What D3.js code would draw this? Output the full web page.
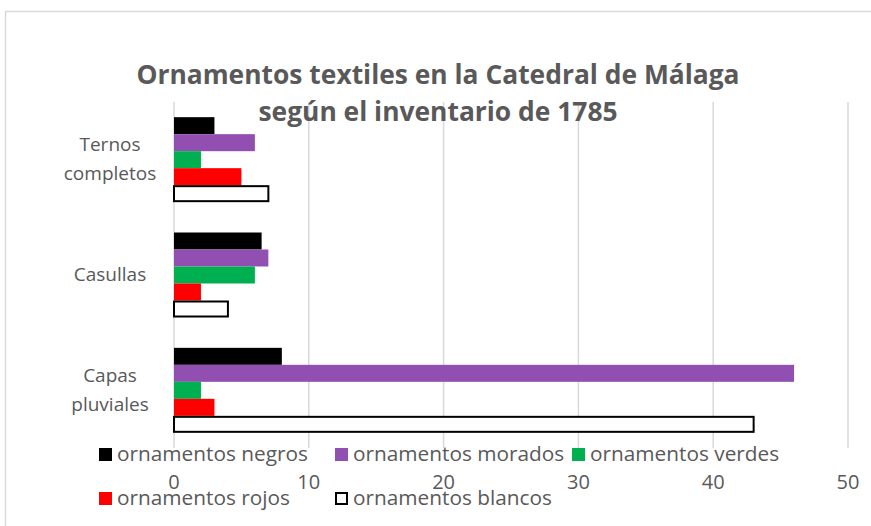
<!DOCTYPE html>
<html>
<head>
<meta charset="utf-8">
<script src="https://cdn.jsdelivr.net/npm/d3@7"></script>
<style>
  body { margin: 0; background: #fff; }
  text { font-family: "Open Sans", sans-serif; fill: #595959; }
</style>
</head>
<body>
<svg id="chart"></svg>
<script>
// categories, top to bottom
const categories = [["Ternos", "completos"], ["Casullas"], ["Capas", "pluviales"]];
const seriesNames = ["ornamentos negros", "ornamentos morados", "ornamentos verdes", "ornamentos rojos", "ornamentos blancos"];
const negros = [3, 6.5, 8];
const morados = [6, 7, 46];
const verdes = [2, 6, 2];
const rojos = [5, 2, 3];
const blancos = [7, 4, 43];
const xTicks = [0, 10, 20, 30, 40, 50];
const titleLines = ["Ornamentos textiles en la Catedral de Málaga", "según el inventario de 1785"];

const colors = ["#000000", "#9150B1", "#00B050", "#FF0000", "#FFFFFF"];
const allSeries = [negros, morados, verdes, rojos, blancos];

const width = 871, height = 526;
const margin = { top: 102, right: 23, bottom: 78, left: 174 };

const svg = d3.select('#chart')
    .attr('width', width)
    .attr('height', height);

// outer border of the chart area (cropped on right/bottom)
svg.append('rect')
    .attr('x', 5.5).attr('y', 11.5)
    .attr('width', 880).attr('height', 530)
    .attr('fill', 'none')
    .attr('stroke', '#d9d9d9')
    .attr('stroke-width', 1.5);

const chart = svg.append('g')
    .attr('transform', `translate(${margin.left},${margin.top})`);

const xScale = d3.scaleLinear().domain([0, 50]).range([0, 674]);
const yScale = d3.scaleBand().domain(d3.range(categories.length)).range([0, 346]);
const barScale = d3.scaleBand().domain(d3.range(seriesNames.length))
    .range([0, 85]);
const groupOffset = (yScale.bandwidth() - 85) / 2;

// gridlines
chart.append('g')
    .selectAll('line')
    .data(xTicks)
    .join('line')
    .attr('x1', d => xScale(d)).attr('x2', d => xScale(d))
    .attr('y1', 0).attr('y2', 346)
    .attr('stroke', '#d9d9d9')
    .attr('stroke-width', 1.5);

// bars
allSeries.forEach((vals, si) => {
    chart.append('g')
        .selectAll('rect')
        .data(vals)
        .join('rect')
        .attr('x', 0)
        .attr('y', (d, i) => yScale(i) + groupOffset + barScale(si) + (si === 4 ? 1 : 0))
        .attr('width', d => xScale(d))
        .attr('height', si === 4 ? barScale.bandwidth() - 2 : barScale.bandwidth())
        .attr('fill', colors[si])
        .attr('stroke', si === 4 ? '#000' : 'none')
        .attr('stroke-width', 2);
});

// x tick labels
chart.append('g')
    .selectAll('text')
    .data(xTicks)
    .join('text')
    .attr('x', d => xScale(d))
    .attr('y', 387)
    .attr('text-anchor', 'middle')
    .style('font-size', '20px')
    .text(d => d);

// category labels
categories.forEach((lines, i) => {
    const cy = yScale(i) + yScale.bandwidth() / 2;
    const t = chart.append('text')
        .attr('text-anchor', 'middle')
        .style('font-size', '19px');
    lines.forEach((l, j) => {
        t.append('tspan')
            .attr('x', -64)
            .attr('y', cy + 6 + (j - (lines.length - 1) / 2) * 29)
            .text(l);
    });
});

// title
titleLines.forEach((l, j) => {
    svg.append('text')
        .attr('x', 438)
        .attr('y', 84 + j * 37)
        .attr('text-anchor', 'middle')
        .style('font-size', '26.4px')
        .style('font-weight', 'bold')
        .text(l);
});

// legend
const legendPos = [[99, 454], [335, 454], [572, 454], [99, 498], [335, 498]];
seriesNames.forEach((name, i) => {
    const g = svg.append('g')
        .attr('transform', `translate(${legendPos[i][0]},${legendPos[i][1]})`);
    g.append('rect')
        .attr('x', i === 4 ? 1 : 0).attr('y', i === 4 ? -5 : -6)
        .attr('width', i === 4 ? 11 : 13).attr('height', i === 4 ? 11 : 13)
        .attr('fill', colors[i])
        .attr('stroke', i === 4 ? '#000' : 'none')
        .attr('stroke-width', 2);
    g.append('text')
        .attr('x', 18)
        .attr('y', 7)
        .style('font-size', '20.8px')
        .text(name);
});
</script>
</body>
</html>
